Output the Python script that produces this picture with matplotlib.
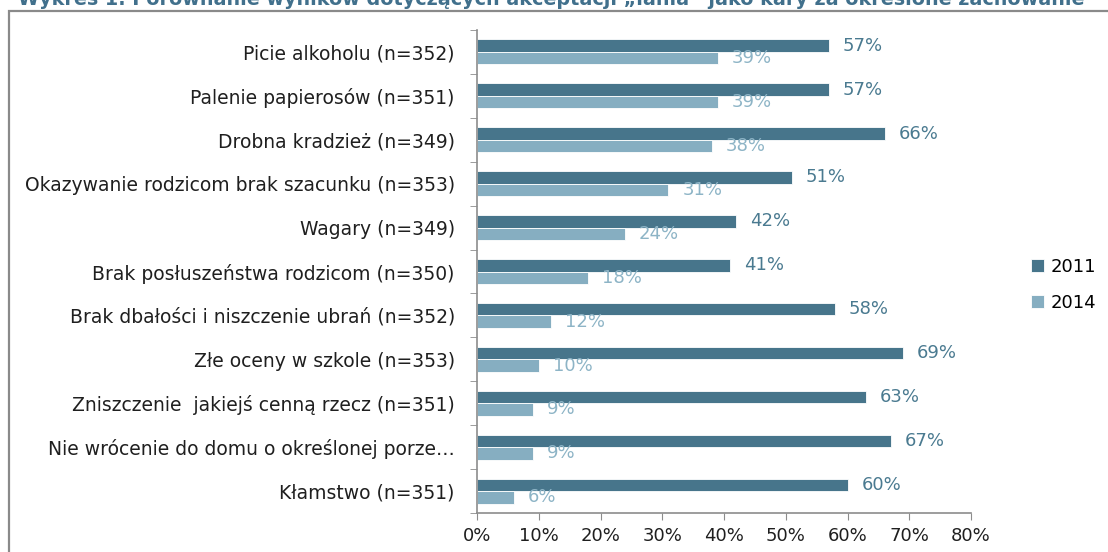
"""
Wykres 1 - porownanie akceptacji "lania" jako kary, 2011 vs 2014.
Horizontal grouped bar chart, saved to out.png.
"""

import matplotlib
matplotlib.use("Agg")
import matplotlib.pyplot as plt
from matplotlib.patches import Rectangle
from matplotlib.ticker import FuncFormatter, FixedLocator

# ── Data ─────────────────────────────────────────────────────────
TITLE = "Wykres 1. Porównanie wyników dotyczących akceptacji „lania” jako kary za określone zachowanie"

categories = [
    "Picie alkoholu (n=352)",
    "Palenie papierosów (n=351)",
    "Drobna kradzież (n=349)",
    "Okazywanie rodzicom brak szacunku (n=353)",
    "Wagary (n=349)",
    "Brak posłuszeństwa rodzicom (n=350)",
    "Brak dbałości i niszczenie ubrań (n=352)",
    "Złe oceny w szkole (n=353)",
    "Zniszczenie  jakiejś cenną rzecz (n=351)",
    "Nie wrócenie do domu o określonej porze…",
    "Kłamstwo (n=351)",
]
values_2011 = [57, 57, 66, 51, 42, 41, 58, 69, 63, 67, 60]
values_2014 = [39, 39, 38, 31, 24, 18, 12, 10, 9, 9, 6]
series_labels = ["2011", "2014"]
x_ticks = [0, 10, 20, 30, 40, 50, 60, 70, 80]

# ── Style ────────────────────────────────────────────────────────
DARK = "#47758B"
LIGHT = "#86AEC1"
DARK_TXT = "#4A7A90"
LIGHT_TXT = "#8DB4C6"
AXIS_GRAY = "#8C8C8C"
TITLE_COLOR = "#41708C"
FONT = 13
CAT_FONT = 13.5
BAR_H = 0.285

W, H = 1108, 552
plt.rcParams["font.family"] = ["DejaVu Sans"]

fig = plt.figure(figsize=(W / 100, H / 100), dpi=100)

# chart frame (gray border running off the right and bottom edge)
fig.patches.append(Rectangle((9 / W, -0.1), 1.2, (H - 11) / H + 0.1,
                             transform=fig.transFigure, fill=False,
                             edgecolor="#8A8A8A", linewidth=1.6))

# title, partly cut off by the top edge of the picture (as in the source)
fig.text(18 / W, 1 - 5 / H, TITLE, fontsize=13.8, fontweight="bold",
         color=TITLE_COLOR, ha="left", va="baseline")

ax = fig.add_axes([477 / W, 39 / H, (971 - 477) / W, (513 - 30) / H])

pos = list(range(len(categories)))
pos_2011 = [p - BAR_H / 2 for p in pos]
pos_2014 = [p + BAR_H / 2 for p in pos]

b1 = ax.barh(pos_2011, values_2011, height=BAR_H, color=DARK,
             edgecolor="white", linewidth=0.6, label=series_labels[0])
b2 = ax.barh(pos_2014, values_2014, height=BAR_H, color=LIGHT,
             edgecolor="white", linewidth=0.6, label=series_labels[1])

for bars, vals, col in [(b1, values_2011, DARK_TXT), (b2, values_2014, LIGHT_TXT)]:
    for rect, v in zip(bars, vals):
        ax.annotate(f"{v}%", (rect.get_width(), rect.get_y() + rect.get_height() / 2),
                    xytext=(10, 0), textcoords="offset points",
                    ha="left", va="center", fontsize=FONT, color=col)

ax.set_xlim(0, 80)
ax.set_ylim(len(categories) - 0.5, -0.5)

ax.set_xticks(x_ticks)
ax.xaxis.set_major_formatter(FuncFormatter(lambda v, _: f"{v:.0f}%"))
ax.set_yticks(pos)
ax.set_yticklabels(categories)
ax.yaxis.set_minor_locator(FixedLocator([p - 0.5 for p in pos] + [pos[-1] + 0.5]))

ax.tick_params(axis="y", which="major", length=0, pad=16, labelsize=CAT_FONT, labelcolor="#1F1F1F")
ax.tick_params(axis="y", which="minor", length=5, color=AXIS_GRAY, direction="out")
ax.tick_params(axis="x", length=5, color=AXIS_GRAY, direction="out", pad=5,
               labelsize=FONT, labelcolor="#1F1F1F")

for side in ["top", "right"]:
    ax.spines[side].set_visible(False)
for side in ["left", "bottom"]:
    ax.spines[side].set_color(AXIS_GRAY)
    ax.spines[side].set_linewidth(1.2)

fig.legend(handles=[b1, b2], labels=series_labels, loc="center left",
           bbox_to_anchor=(1015 / W, 1 - 285 / H), frameon=False,
           fontsize=FONT, handlelength=0.7, handleheight=0.7,
           handletextpad=0.4, labelspacing=1.0)

fig.savefig("out.png", dpi=100)
